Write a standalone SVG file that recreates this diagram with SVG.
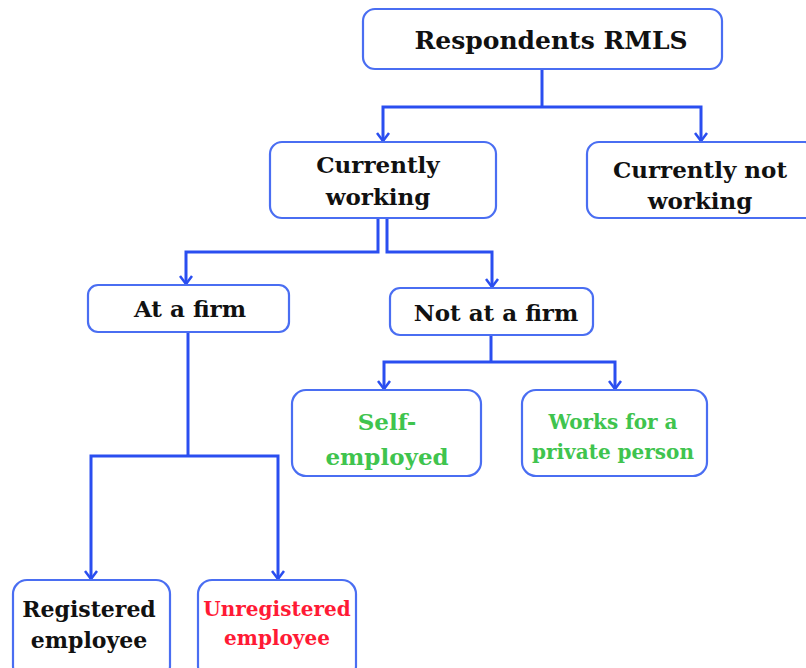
<svg xmlns="http://www.w3.org/2000/svg" width="806" height="668" viewBox="0 0 806 668">
<defs>
<style>
.box{fill:#fff;stroke:#4a6ef2;stroke-width:2.2}
.t{font-family:"DejaVu Serif","Liberation Serif",serif;font-weight:bold;text-anchor:middle;fill:#111}
.g{fill:#3fc44e}
.r{fill:#ff1a35}
.c{fill:none;stroke:#2a4ef0;stroke-width:3;marker-end:url(#ah)}
.cn{fill:none;stroke:#2a4ef0;stroke-width:3}
</style>
<marker id="ah" viewBox="0 0 10 14" refX="9" refY="7" markerWidth="10" markerHeight="14" markerUnits="userSpaceOnUse" orient="auto">
<polyline points="1,1 9,7 1,13" fill="none" stroke="#2a4ef0" stroke-width="2.5"/>
</marker>
</defs>
<g id="connectors">
<path class="cn" d="M542 69 V107"/>
<path class="c" d="M542 107 H383 V141"/>
<path class="c" d="M542 107 H701 V141"/>
<path class="c" d="M378 218 V252 H186 V284"/>
<path class="c" d="M387 218 V252 H492 V287"/>
<path class="cn" d="M491 335 V362"/>
<path class="c" d="M491 362 H384 V389"/>
<path class="c" d="M491 362 H615 V389"/>
<path class="cn" d="M188 332 V456"/>
<path class="c" d="M188 456 H91 V579"/>
<path class="c" d="M188 456 H278 V579"/>
</g>
<g id="n-root"><rect class="box" x="363" y="9" width="359" height="60" rx="12"/><text class="t" x="551" y="49" font-size="25">Respondents RMLS</text></g>
<g id="n-working"><rect class="box" x="270" y="142" width="226" height="76" rx="12"/><text class="t" x="378" y="173" font-size="23">Currently</text><text class="t" x="378" y="205" font-size="23">working</text></g>
<g id="n-notworking"><rect class="box" x="587" y="142" width="230" height="76" rx="12"/><text class="t" x="700" y="178" font-size="23">Currently not</text><text class="t" x="700" y="209" font-size="23">working</text></g>
<g id="n-firm"><rect class="box" x="88" y="285" width="201" height="47" rx="10"/><text class="t" x="190" y="317" font-size="23">At a firm</text></g>
<g id="n-notfirm"><rect class="box" x="390" y="288" width="203" height="47" rx="10"/><text class="t" x="496" y="321" font-size="23">Not at a firm</text></g>
<g id="n-self"><rect class="box" x="292" y="390" width="189" height="86" rx="14"/><text class="t g" x="387" y="430" font-size="23">Self-</text><text class="t g" x="387" y="465" font-size="23">employed</text></g>
<g id="n-private"><rect class="box" x="522" y="390" width="185" height="86" rx="14"/><text class="t g" x="613" y="429" font-size="20">Works for a</text><text class="t g" x="613" y="459" font-size="20">private person</text></g>
<g id="n-reg"><rect class="box" x="13" y="580" width="157" height="100" rx="14"/><text class="t" x="89" y="617" font-size="22">Registered</text><text class="t" x="89" y="648" font-size="22">employee</text></g>
<g id="n-unreg"><rect class="box" x="198" y="580" width="158" height="100" rx="14"/><text class="t r" x="277" y="616" font-size="20">Unregistered</text><text class="t r" x="277" y="645" font-size="20">employee</text></g>
</svg>
